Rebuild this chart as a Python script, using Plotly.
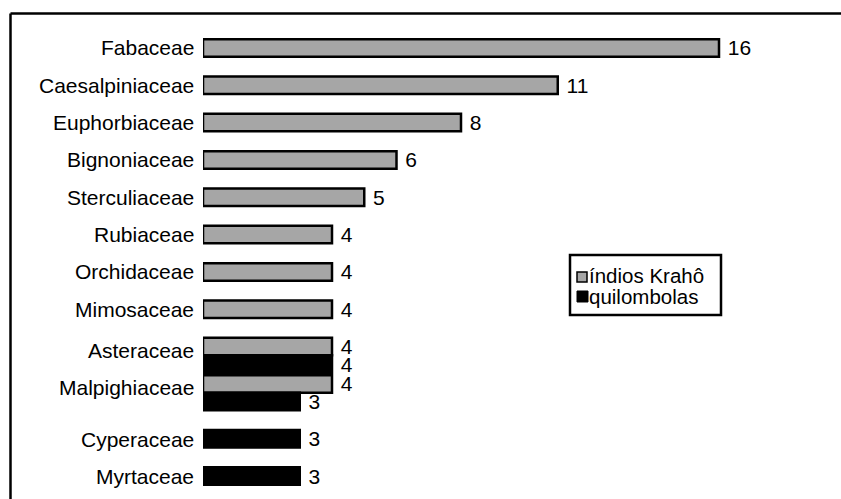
import plotly.graph_objects as go

# Plant families and number of species cited by each group
families = [
    "Fabaceae", "Caesalpiniaceae", "Euphorbiaceae", "Bignoniaceae",
    "Sterculiaceae", "Rubiaceae", "Orchidaceae", "Mimosaceae",
    "Asteraceae", "Malpighiaceae", "Cyperaceae", "Myrtaceae",
]
kraho = [16, 11, 8, 6, 5, 4, 4, 4, 4, 4, None, None]
quilombolas = [None, None, None, None, None, None, None, None, 4, 3, 3, 3]
series_names = ["índios Krahô", "quilombolas"]

W, H = 841, 499
ML, MR, MT, MB = 203, 26, 38, 13
PW, PH = W - ML - MR, H - MT - MB
PX_PER_UNIT = 32.25
FONT = "Arial, 'Liberation Sans', sans-serif"
GRAY = "#a6a6a6"


def px_x(px):
    return (px - ML) / PW


def px_y(py):
    return (H - MB - py) / PH


fig = go.Figure()
fig.add_trace(go.Bar(
    y=families, x=kraho, orientation="h", name=series_names[0],
    marker=dict(color=GRAY, line=dict(color="black", width=2.5)),
    text=kraho, texttemplate="\u00a0%{x}", textposition="outside",
    constraintext="none",
    textfont=dict(family=FONT, size=21, color="black"), cliponaxis=False,
))
fig.add_trace(go.Bar(
    y=families, x=quilombolas, orientation="h", name=series_names[1],
    marker=dict(color="black", line=dict(color="black", width=2.5)),
    text=quilombolas, texttemplate="\u00a0%{x}", textposition="outside",
    constraintext="none",
    textfont=dict(family=FONT, size=21, color="black"), cliponaxis=False,
))

# Family names sit beside the bar(s) they describe
annotations = []
for fam, a, b in zip(families, kraho, quilombolas):
    if a is not None and b is not None:
        shift = 5
    elif a is not None:
        shift = 9
    else:
        shift = -9
    annotations.append(dict(
        x=0, y=fam, xref="x", yref="y", text=fam, showarrow=False,
        xanchor="right", yanchor="middle", xshift=-7, yshift=shift,
        font=dict(family=FONT, size=21, color="black"),
    ))

# Legend box
shapes = [
    dict(type="rect", xref="paper", yref="paper",
         x0=px_x(570), x1=px_x(721), y0=px_y(255), y1=px_y(315),
         line=dict(color="black", width=2.5), fillcolor="white", layer="above"),
    dict(type="rect", xref="paper", yref="paper",
         x0=px_x(577), x1=px_x(587), y0=px_y(272), y1=px_y(282),
         line=dict(color="black", width=1.5), fillcolor=GRAY, layer="above"),
    dict(type="rect", xref="paper", yref="paper",
         x0=px_x(577), x1=px_x(588), y0=px_y(291), y1=px_y(302),
         line=dict(color="black", width=1), fillcolor="black", layer="above"),
    # Outer frame (top and left edges)
    dict(type="line", xref="paper", yref="paper",
         x0=px_x(10.5), x1=px_x(860), y0=px_y(13.5), y1=px_y(13.5),
         line=dict(color="black", width=2.5)),
    dict(type="line", xref="paper", yref="paper",
         x0=px_x(10.5), x1=px_x(10.5), y0=px_y(13.5), y1=px_y(520),
         line=dict(color="black", width=2.5)),
]
for name, cy in zip(series_names, [275, 296]):
    annotations.append(dict(
        x=px_x(588), y=px_y(cy), xref="paper", yref="paper", text=name,
        showarrow=False, xanchor="left", yanchor="middle",
        font=dict(family=FONT, size=20.5, color="black"), borderpad=0,
    ))

fig.update_layout(
    width=W, height=H,
    margin=dict(l=ML, r=MR, t=MT, b=MB),
    barmode="group", bargap=0.0625, bargroupgap=0,
    showlegend=False,
    plot_bgcolor="white", paper_bgcolor="white",
    annotations=annotations, shapes=shapes,
    xaxis=dict(range=[0, PW / PX_PER_UNIT], visible=False),
    yaxis=dict(type="category", categoryorder="array", categoryarray=families,
               range=[len(families) - 0.5, -0.5], showticklabels=False,
               showgrid=False, zeroline=False, showline=False, ticks=""),
)

fig.write_html("out.html")
